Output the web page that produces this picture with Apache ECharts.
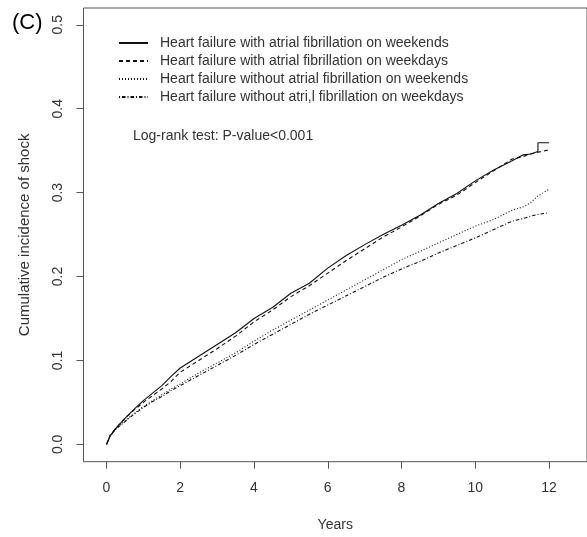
<!DOCTYPE html>
<html>
<head>
<meta charset="utf-8">
<script src="https://cdn.jsdelivr.net/npm/echarts@6/dist/echarts.min.js"></script>
<style>
  html, body { margin: 0; padding: 0; background: #fff; }
  #main { width: 587px; height: 537px; }
</style>
</head>
<body>
<div id="main"></div>
<script>
// years since admission (shared grid; 11.7 twice for the last step of the solid curve)
var years = [0, 0.1, 0.25, 0.5, 0.75, 1, 1.25, 1.5, 1.75, 2, 2.5, 3, 3.5, 4, 4.5, 5, 5.5, 6, 6.5, 7, 7.5, 8, 8.5, 9, 9.5, 10, 10.5, 11, 11.3, 11.5, 11.7, 11.7, 12];

var afWeekends = [0, 0.010, 0.019, 0.031, 0.042, 0.052, 0.061, 0.070, 0.081, 0.091, 0.105, 0.119, 0.133, 0.150, 0.163, 0.180, 0.192, 0.210, 0.225, 0.238, 0.250, 0.261, 0.273, 0.287, 0.299, 0.314, 0.327, 0.338, 0.345, 0.346, 0.349, 0.3595, 0.3595];
var afWeekdays = [0, 0.011, 0.019, 0.031, 0.041, 0.050, 0.058, 0.066, 0.075, 0.086, 0.100, 0.114, 0.129, 0.146, 0.160, 0.176, 0.189, 0.204, 0.219, 0.233, 0.247, 0.259, 0.272, 0.286, 0.297, 0.312, 0.326, 0.340, 0.343, 0.346, 0.348, 0.348, 0.351];
var noAfWeekends = [0, 0.010, 0.018, 0.028, 0.037, 0.045, 0.052, 0.059, 0.066, 0.072, 0.085, 0.097, 0.109, 0.123, 0.136, 0.148, 0.160, 0.172, 0.184, 0.196, 0.208, 0.220, 0.230, 0.240, 0.250, 0.260, 0.268, 0.279, 0.283, 0.288, 0.296, 0.296, 0.304];
var noAfWeekdays = [0, 0.010, 0.018, 0.027, 0.036, 0.044, 0.051, 0.057, 0.064, 0.070, 0.082, 0.094, 0.106, 0.119, 0.131, 0.143, 0.155, 0.166, 0.177, 0.188, 0.199, 0.209, 0.218, 0.228, 0.237, 0.246, 0.256, 0.266, 0.269, 0.272, 0.274, 0.274, 0.276];

var seriesNames = [
    'Heart failure with atrial fibrillation on weekends',
    'Heart failure with atrial fibrillation on weekdays',
    'Heart failure without atrial fibrillation on weekends',
    'Heart failure without atri,l fibrillation on weekdays'
];
var xTicks = [0, 2, 4, 6, 8, 10, 12];
var yTicks = [0, 0.1, 0.2, 0.3, 0.4, 0.5];

var FONT = 'Liberation Sans, Arial, sans-serif';
var TXT = '#333';

var pairs = function (vals) {
    return years.map(function (x, i) {
        return [x, vals[i]];
    });
};

var mkSeries = function (name, vals, dash) {
    return {
        name: name,
        type: 'line',
        data: pairs(vals),
        symbol: 'none',
        smooth: false,
        lineStyle: { color: '#111', width: 1.1, type: dash },
        itemStyle: { color: '#111' }
    };
};

var myChart = echarts.init(document.getElementById('main'), null, { renderer: 'canvas' });

var option = {
    animation: false,
    backgroundColor: '#fff',
    textStyle: { fontFamily: FONT },
    title: [{
        text: '(C)',
        left: 12,
        top: 12,
        padding: 0,
        textStyle: { fontSize: 22, fontWeight: 'normal', color: '#000', fontFamily: FONT }
    }, {
        text: 'Log-rank test: P-value<0.001',
        left: 133,
        top: 129,
        padding: 0,
        textStyle: { fontSize: 14, fontWeight: 'normal', color: TXT, fontFamily: FONT }
    }],
    legend: {
        orient: 'vertical',
        left: 118,
        top: 36,
        padding: 0,
        itemGap: 4,
        itemWidth: 29,
        itemHeight: 14,
        itemStyle: { opacity: 0 },
        textStyle: { fontSize: 14, color: TXT, fontFamily: FONT, lineHeight: 14, padding: [0, 0, 0, 7] },
        data: seriesNames
    },
    grid: {
        left: 83.5,
        top: 8,
        right: -4.5,
        bottom: 75.3,
        show: true,
        borderColor: '#555',
        borderWidth: 1
    },
    xAxis: {
        type: 'value',
        min: -0.624,
        max: 13.03,
        axisLine: { show: false, onZero: false },
        axisTick: { show: true, customValues: xTicks, length: 7, lineStyle: { color: '#555' } },
        axisLabel: { customValues: xTicks, margin: 19, fontSize: 14, color: TXT, fontFamily: FONT },
        splitLine: { show: false },
        name: 'Years',
        nameLocation: 'middle',
        nameGap: 56,
        nameTextStyle: { fontSize: 14, color: TXT, fontFamily: FONT }
    },
    yAxis: {
        type: 'value',
        min: -0.0207,
        max: 0.52,
        axisLine: { show: false, onZero: false },
        axisTick: { show: true, customValues: yTicks, length: 7, lineStyle: { color: '#555' } },
        axisLabel: {
            customValues: yTicks,
            rotate: 90,
            margin: 18,
            fontSize: 14,
            color: TXT,
            fontFamily: FONT,
            formatter: function (v) { return v.toFixed(1); }
        },
        splitLine: { show: false },
        name: 'Cumulative incidence of shock',
        nameLocation: 'middle',
        nameGap: 51,
        nameTextStyle: { fontSize: 15, color: TXT, fontFamily: FONT }
    },
    series: [
        mkSeries(seriesNames[0], afWeekends, 'solid'),
        mkSeries(seriesNames[1], afWeekdays, [4, 3]),
        mkSeries(seriesNames[2], noAfWeekends, [1, 2]),
        mkSeries(seriesNames[3], noAfWeekdays, [1, 2, 3.5, 2])
    ]
};

myChart.setOption(option);
</script>
</body>
</html>
